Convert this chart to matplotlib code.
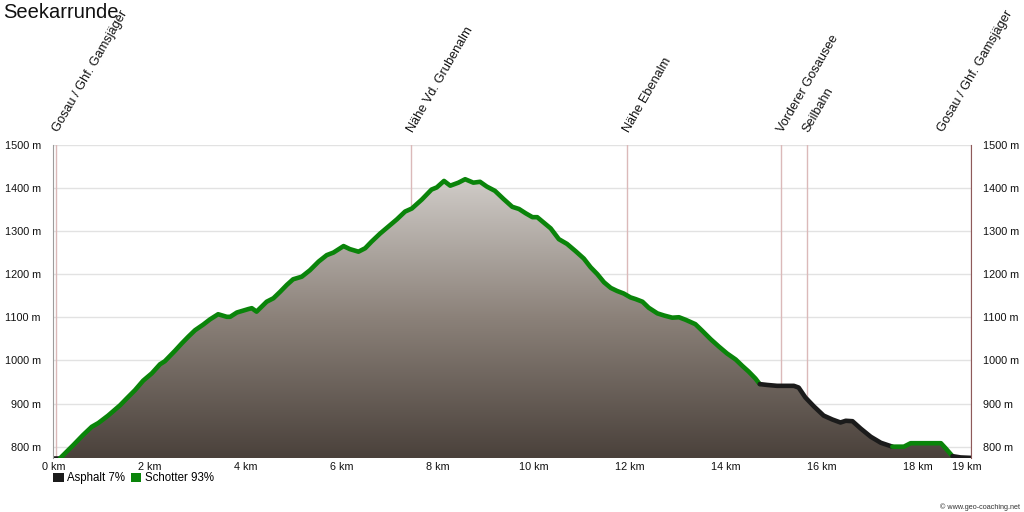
import numpy as np
import matplotlib
matplotlib.use("Agg")
import matplotlib.pyplot as plt
from matplotlib.patches import Polygon, Patch
from matplotlib.colors import LinearSegmentedColormap
import matplotlib.transforms as mtransforms

plt.rcParams['font.family'] = ['Liberation Sans', 'DejaVu Sans']

# ---------------- data ----------------
title = "Seekarrunde"

distance_km = [
    0.00, 0.14, 0.24, 0.42, 0.62, 0.80, 0.94, 1.14, 1.39, 1.53, 1.70, 1.87, 2.05, 2.22, 2.32,
    2.53, 2.67, 2.81, 2.95, 3.12, 3.26, 3.43, 3.61, 3.68, 3.82, 4.06, 4.13, 4.23, 4.44, 4.58,
    4.72, 4.86, 4.99, 5.17, 5.34, 5.52, 5.69, 5.83, 6.04, 6.17, 6.35, 6.49, 6.62, 6.80, 6.97,
    7.15, 7.32, 7.46, 7.67, 7.87, 7.98, 8.13, 8.26, 8.43, 8.57, 8.74, 8.88, 9.02, 9.19, 9.37,
    9.55, 9.69, 9.83, 9.97, 10.07, 10.21, 10.35, 10.52, 10.69, 10.87, 11.04, 11.18, 11.32,
    11.46, 11.60, 11.73, 11.87, 12.01, 12.12, 12.26, 12.39, 12.57, 12.71, 12.88, 13.02, 13.16,
    13.36, 13.50, 13.68, 13.85, 14.02, 14.20, 14.34, 14.47, 14.61, 14.70, 14.86, 15.06, 15.27,
    15.41, 15.51, 15.65, 15.83, 16.03, 16.21, 16.38, 16.49, 16.63, 16.80, 17.01, 17.22, 17.46,
    17.56, 17.70, 17.84, 18.05, 18.26, 18.47, 18.57, 18.71, 18.88, 19.09,
]
elevation_m = [
    773, 773, 784, 804, 827, 846, 855, 872, 896, 912, 931, 953, 970, 991, 998,
    1022, 1039, 1055, 1070, 1083, 1095, 1107, 1101, 1101, 1111, 1119, 1121, 1113, 1136, 1144,
    1159, 1175, 1188, 1194, 1209, 1229, 1244, 1250, 1265, 1258, 1252, 1260, 1275, 1294, 1310,
    1327, 1345, 1352, 1373, 1396, 1401, 1416, 1405, 1412, 1420, 1412, 1414, 1403, 1393, 1374,
    1356, 1351, 1341, 1332, 1332, 1319, 1306, 1281, 1270, 1253, 1236, 1216, 1200,
    1181, 1168, 1161, 1155, 1146, 1142, 1136, 1122, 1109, 1104, 1099, 1100, 1094,
    1084, 1069, 1049, 1032, 1016, 1002, 987, 974, 958, 945, 943, 941, 941,
    941, 937, 914, 893, 872, 863, 856, 860, 859, 842, 823, 809, 800,
    800, 800, 808, 808, 808, 808, 796, 778, 775, 774,
]

# surface sections: start km of each section and its type
surface_start_km = [0.00, 0.14, 14.70, 17.46, 18.71]
surface_type = ["Asphalt", "Schotter", "Asphalt", "Schotter", "Asphalt"]
surface_legend = ["Asphalt 7%", "Schotter 93%"]

waypoint_km = [0.06, 7.44, 11.93, 15.14, 15.68, 19.09]
waypoint_names = ["Gosau / Ghf. Gamsjäger", "Nähe Vd. Grubenalm", "Nähe Ebenalm",
                  "Vorderer Gosausee", "Seilbahn", "Gosau / Ghf. Gamsjäger"]

y_ticks = [800, 900, 1000, 1100, 1200, 1300, 1400, 1500]
x_ticks = [0, 2, 4, 6, 8, 10, 12, 14, 16, 18, 19]

# ---------------- style ----------------
surface_colors = {"Asphalt": "#1b1b1b", "Schotter": "#0a840a"}
x = np.array(distance_km, dtype=float)
y = np.array(elevation_m, dtype=float)
y_bottom = 773
x_max = x[-1]

fig = plt.figure(figsize=(10.24, 5.12), dpi=100)
ax = fig.add_axes([53.3 / 1024, 1 - 458.3 / 512, (970.7 - 53.3) / 1024, (458.3 - 144.7) / 512])
ax.set_xlim(0, x_max)
ax.set_ylim(y_bottom, 1500)

# gridlines
for yt in y_ticks:
    ax.axhline(yt, color="#e2e2e2", lw=1.0, zorder=0)

# waypoint lines
for wk in waypoint_km:
    ax.axvline(wk, color="#dbb9b9", lw=1.0, zorder=0.5)

# gradient fill under profile
poly_xy = np.vstack([np.column_stack([x, y]), [[x[-1], y_bottom], [x[0], y_bottom]]])
poly = Polygon(poly_xy, closed=True, facecolor="none", edgecolor="none", transform=ax.transData)
ax.add_patch(poly)
cmap = LinearSegmentedColormap.from_list("terrain_grad", ["#4a413b", "#8b8179", "#d0ccc8"])
grad = np.linspace(0, 1, 256).reshape(-1, 1)
im = ax.imshow(grad, extent=[0, x_max, y_bottom, y.max()], origin="lower", aspect="auto",
               cmap=cmap, zorder=1, interpolation="bicubic")
im.set_clip_path(poly)

# profile line by surface
bounds = surface_start_km + [x_max]
for i, st in enumerate(surface_type):
    a, b = bounds[i], bounds[i + 1]
    m = (x >= a - 1e-9) & (x <= b + 1e-9)
    ax.plot(x[m], y[m], color=surface_colors[st], lw=3.3, solid_capstyle="round",
            solid_joinstyle="round", zorder=3)

# axes styling
for s in ["top", "bottom"]:
    ax.spines[s].set_visible(False)
ax.spines["left"].set_color("#9c9c9c")
ax.spines["right"].set_color("#8e5a5a")
ax.spines["left"].set_zorder(4)
ax.spines["right"].set_zorder(4)

ax.set_yticks(y_ticks)
ax.set_yticklabels([f"{v} m" for v in y_ticks])
ax.set_xticks(x_ticks)
ax.set_xticklabels([f"{v} km" for v in x_ticks])
ax.tick_params(axis="y", length=0, pad=9, labelsize=7.8, labelright=True, right=False, colors="#111111")
ax.tick_params(axis="x", length=0, pad=3, labelsize=7.8, colors="#111111")

# waypoint labels
blend = mtransforms.blended_transform_factory(ax.transData, ax.transAxes)
for i, (wk, name) in enumerate(zip(waypoint_km, waypoint_names)):
    dx = 2 if i < len(waypoint_km) - 1 else -27
    tr = mtransforms.offset_copy(blend, fig=fig, x=dx, y=12, units="dots")
    ax.text(wk, 1.0, name, transform=tr, rotation=60, rotation_mode="anchor",
            ha="left", va="baseline", fontsize=9.2, color="#111111", clip_on=False)

# title
fig.text(3 / 1024, 1 - 3 / 512, title, ha="left", va="top", fontsize=14.5, color="#111111")

# legend
handles = [Patch(facecolor=surface_colors[k], edgecolor="none", label=lab)
           for k, lab in zip(["Asphalt", "Schotter"], surface_legend)]
ax.legend(handles=handles, loc="upper left", bbox_to_anchor=(0, -0.045), ncol=2,
          frameon=False, fontsize=8.3, handlelength=0.9, handleheight=0.9,
          handletextpad=0.3, columnspacing=0.5, borderaxespad=0, borderpad=0)

# watermark
fig.text(1020 / 1024, 1 - 507 / 512, "© www.geo-coaching.net", ha="right", va="center",
         fontsize=5.2, color="#333333")

fig.savefig("out.png", dpi=100)
